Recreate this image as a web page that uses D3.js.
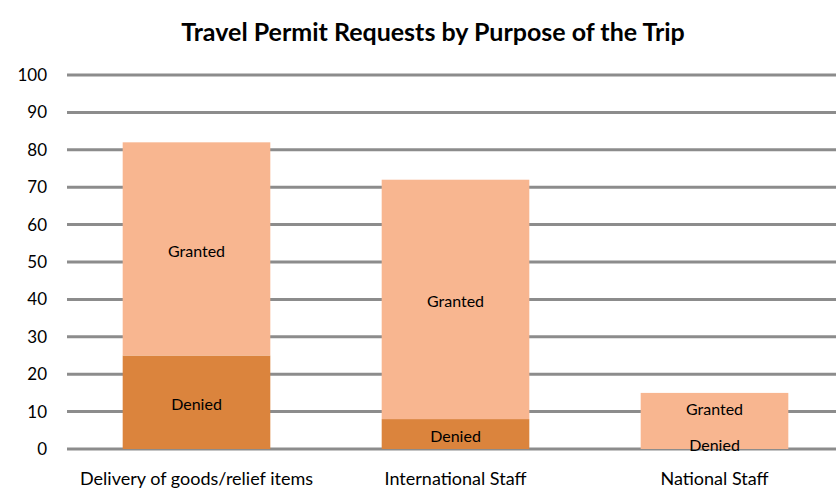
<!DOCTYPE html>
<html>
<head>
<meta charset="utf-8">
<script src="https://cdn.jsdelivr.net/npm/d3@7"></script>
<style>
  body { margin: 0; background: #fff; }
  svg { display: block; font-family: Lato, "Open Sans", sans-serif; }
</style>
</head>
<body>
<svg id="chart" width="836" height="491"></svg>
<script>
// data
const categories = ["Delivery of goods/relief items", "International Staff", "National Staff"];
const denied = [25, 8, 0];
const granted = [57, 64, 15];
const yTicks = [0, 10, 20, 30, 40, 50, 60, 70, 80, 90, 100];

const svg = d3.select("#chart");
const width = 836, height = 491;
const margin = { top: 75, left: 67, bottom: 42 };

const x = d3.scaleBand()
    .domain(categories)
    .range([margin.left, margin.left + 777])
    .paddingInner(0.43)
    .paddingOuter(0.215);

const y = d3.scaleLinear()
    .domain([0, 100])
    .range([449, margin.top]);

// title
svg.append("text")
    .attr("x", 433)
    .attr("y", 41)
    .attr("text-anchor", "middle")
    .style("font-size", "25px")
    .style("font-weight", "bold")
    .style("fill", "#000")
    .text("Travel Permit Requests by Purpose of the Trip");

// gridlines
svg.append("g")
    .selectAll("line")
    .data(yTicks)
    .enter()
    .append("line")
    .attr("x1", margin.left)
    .attr("x2", width)
    .attr("y1", d => y(d))
    .attr("y2", d => y(d))
    .style("stroke", "#8c8c8c")
    .style("stroke-width", 3);

// y tick labels
svg.append("g")
    .selectAll("text")
    .data(yTicks)
    .enter()
    .append("text")
    .attr("x", 47)
    .attr("y", d => y(d))
    .attr("dy", "0.35em")
    .attr("text-anchor", "end")
    .style("font-size", "17px")
    .style("fill", "#000")
    .text(d => d);

// stacked bars
const rows = categories.map((c, i) => ({ cat: c, denied: denied[i], granted: granted[i] }));
const stack = d3.stack().keys(["denied", "granted"])(rows);
const colors = { denied: "#db843d", granted: "#f8b690" };

stack.forEach(layer => {
    svg.append("g")
        .selectAll("rect")
        .data(layer)
        .enter()
        .append("rect")
        .attr("x", d => x(d.data.cat))
        .attr("width", x.bandwidth())
        .attr("y", d => y(d[1]))
        .attr("height", d => y(d[0]) - y(d[1]))
        .style("fill", colors[layer.key]);
});

// segment labels
const labelNames = { denied: "Denied", granted: "Granted" };
stack.forEach(layer => {
    svg.append("g")
        .selectAll("text")
        .data(layer)
        .enter()
        .append("text")
        .attr("x", d => x(d.data.cat) + x.bandwidth() / 2)
        .attr("y", d => {
            let cy = y((d[0] + d[1]) / 2) + 2;
            // push granted label up when it would collide with the denied one
            if (layer.key === "granted" && d.data.denied === 0) cy -= 14;
            if (layer.key === "denied" && d.data.denied === 0) cy -= 6;
            return cy;
        })
        .attr("dy", "0.35em")
        .attr("text-anchor", "middle")
        .style("font-size", "16px")
        .style("fill", "#000")
        .text(labelNames[layer.key]);
});

// category labels
svg.append("g")
    .selectAll("text")
    .data(categories)
    .enter()
    .append("text")
    .attr("x", d => x(d) + x.bandwidth() / 2)
    .attr("y", 485)
    .attr("text-anchor", "middle")
    .style("font-size", "18px")
    .style("fill", "#000")
    .text(d => d);
</script>
</body>
</html>
